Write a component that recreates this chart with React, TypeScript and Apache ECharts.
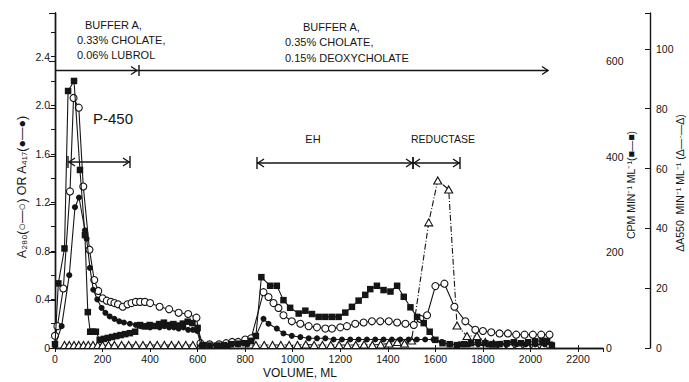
import React, { useEffect, useRef } from "react";
import * as echarts from "echarts";

// Column fractions: [volume (mL), reading]
// A280, open circles, left axis
const a280: [number, number][] = [
  [0, 0.1], [10, 0.18], [35, 0.49], [63, 1.29], [78, 2.06], [100, 1.98], [119, 1.33], [145, 0.81],
  [165, 0.56], [182, 0.47], [200, 0.41], [218, 0.39], [235, 0.38], [250, 0.37], [265, 0.36], [285, 0.34],
  [305, 0.36], [322, 0.37], [340, 0.38], [358, 0.38], [378, 0.38], [400, 0.37], [440, 0.34], [480, 0.32],
  [520, 0.29], [560, 0.28], [595, 0.25], [612, 0.04], [650, 0.03], [690, 0.03], [720, 0.04], [745, 0.05],
  [770, 0.05], [800, 0.07], [825, 0.08], [877, 0.46], [898, 0.42], [919, 0.37], [940, 0.33], [961, 0.27],
  [996, 0.22], [1032, 0.2], [1067, 0.18], [1102, 0.17], [1137, 0.16], [1165, 0.16], [1200, 0.17],
  [1228, 0.18], [1263, 0.2], [1298, 0.21], [1333, 0.22], [1368, 0.22], [1404, 0.22], [1439, 0.21],
  [1474, 0.2], [1509, 0.19], [1537, 0.24], [1565, 0.27], [1600, 0.51], [1638, 0.53], [1680, 0.34],
  [1726, 0.22], [1768, 0.15], [1800, 0.14], [1835, 0.13], [1870, 0.12], [1905, 0.12], [1940, 0.11],
  [1975, 0.11], [2010, 0.11], [2045, 0.11], [2080, 0.11],
];

// A417, filled circles, left axis
const a417: [number, number][] = [
  [0, 0.02], [28, 0.18], [60, 0.6], [84, 1.16], [101, 1.24], [126, 0.97], [133, 0.9], [147, 0.66],
  [161, 0.48], [178, 0.4], [196, 0.33], [212, 0.29], [230, 0.26], [250, 0.24], [270, 0.22], [290, 0.21],
  [315, 0.2], [340, 0.19], [360, 0.18], [380, 0.18], [400, 0.17], [420, 0.18], [440, 0.17], [460, 0.18],
  [480, 0.17], [500, 0.17], [520, 0.16], [540, 0.17], [560, 0.15], [580, 0.15], [598, 0.14], [615, 0.02],
  [650, 0.02], [690, 0.02], [730, 0.02], [770, 0.03], [810, 0.03], [845, 0.1], [877, 0.24], [898, 0.2],
  [933, 0.16], [961, 0.12], [996, 0.1], [1032, 0.09], [1067, 0.08], [1102, 0.08], [1137, 0.08],
  [1172, 0.07], [1207, 0.07], [1242, 0.07], [1277, 0.07], [1312, 0.07], [1347, 0.07], [1382, 0.07],
  [1417, 0.07], [1452, 0.07], [1487, 0.07], [1522, 0.07], [1557, 0.07], [1592, 0.07], [1627, 0.05],
  [1660, 0.03], [1700, 0.03], [1740, 0.03], [1780, 0.03], [1820, 0.03], [1860, 0.03], [1900, 0.03],
  [1940, 0.03], [1980, 0.03], [2020, 0.03], [2060, 0.03], [2090, 0.03],
];

// Radioactivity, filled squares, CPM axis
const cpm: [number, number][] = [
  [0, 8], [14, 135], [40, 208], [55, 537], [80, 558], [105, 372], [126, 236], [138, 75], [148, 34],
  [160, 34], [172, 34], [188, 17], [205, 19], [222, 21], [240, 23], [258, 25], [276, 27], [295, 29],
  [315, 31], [337, 34], [358, 48], [378, 45], [398, 48], [418, 46], [438, 50], [458, 53], [478, 48],
  [498, 50], [518, 47], [538, 51], [558, 55], [578, 52], [600, 42], [622, 6], [650, 5], [680, 5],
  [710, 6], [740, 8], [770, 9], [800, 10], [825, 15], [845, 25], [868, 148], [905, 130], [933, 130],
  [961, 100], [989, 84], [1025, 72], [1053, 78], [1081, 71], [1109, 65], [1137, 65], [1165, 65],
  [1193, 65], [1221, 74], [1249, 86], [1277, 99], [1305, 111], [1326, 123], [1354, 130], [1382, 121],
  [1411, 118], [1439, 130], [1467, 107], [1495, 85], [1523, 65], [1551, 52], [1576, 34], [1600, 17],
  [1630, 10], [1660, 8], [1690, 6], [1720, 8], [1750, 10], [1780, 12], [1810, 10], [1840, 8],
  [1870, 8], [1900, 10], [1930, 12], [1960, 10], [1990, 12], [2020, 14], [2050, 15], [2070, 14],
  [2090, 5],
];

// Reductase activity, open triangles, ΔA550 axis
const dA550: [number, number][] = [
  [40, 1], [60, 1], [80, 1], [100, 1], [120, 1], [140, 1], [160, 1], [180, 1], [200, 1], [225, 1],
  [250, 1], [280, 1], [310, 1], [340, 1], [370, 1], [400, 1], [430, 1], [460, 1], [490, 1], [520, 1],
  [550, 1], [580, 1], [845, 1], [880, 1], [915, 1], [950, 1], [985, 1], [1020, 1], [1055, 1.2],
  [1090, 1], [1125, 1], [1160, 1], [1195, 1], [1230, 1], [1265, 1], [1300, 1.2], [1335, 1], [1370, 1.2],
  [1405, 1.5], [1440, 2], [1470, 1.5], [1500, 2.5], [1572, 42], [1610, 56], [1656, 53], [1691, 7.5],
  [1733, 4], [1775, 4], [1810, 2], [1845, 1.5], [1880, 1], [1915, 1], [1950, 1], [1985, 1], [2020, 1],
  [2055, 1],
];

// Labelled ticks
const volumeTicks = [0, 200, 400, 600, 800, 1000, 1200, 1400, 1600, 1800, 2000, 2200];
const absorbanceTicks = [0, 0.4, 0.8, 1.2, 1.6, 2.0, 2.4];
const cpmTicks = [0, 200, 400, 600];
const activityTicks = [0, 20, 40, 60, 80, 100];

const INK = "#151515";
const FONT = "'Liberation Sans', Arial, Helvetica, sans-serif";

const onList = (list: number[], fmt: (v: number) => string) => (v: number) =>
  list.some((t) => Math.abs(t - v) < 1e-6) ? fmt(v) : "";

const lineEl = (x1: number, y1: number, x2: number, y2: number, w = 1.4) => ({
  type: "line",
  shape: { x1, y1, x2, y2 },
  style: { stroke: INK, lineWidth: w },
  silent: true,
});

const headEl = (x: number, y: number, dir: 1 | -1) => ({
  type: "polyline",
  shape: { points: [[x - dir * 6, y - 4], [x, y], [x - dir * 6, y + 4]] },
  style: { stroke: INK, lineWidth: 1.4, fill: "none" },
  silent: true,
});

// fraction-pool bracket: |<------>|
const bracket = (x1: number, x2: number, y: number) => [
  lineEl(x1, y, x2, y),
  lineEl(x1, y - 6, x1, y + 6),
  lineEl(x2, y - 6, x2, y + 6),
  headEl(x1 + 1, y, -1),
  headEl(x2 - 1, y, 1),
];

const textEl = (
  text: string,
  x: number,
  y: number,
  size: number,
  align: string = "left",
  rotation = 0
) => ({
  type: "text",
  x,
  y,
  rotation,
  silent: true,
  style: {
    text,
    font: `${size}px ${FONT}`,
    fill: INK,
    align,
    verticalAlign: "middle",
    textAlign: align,
    textVerticalAlign: "middle",
  },
});

export default function App() {
  const ref = useRef<HTMLDivElement>(null);

  useEffect(() => {
    if (!ref.current) return;
    const chart = echarts.init(ref.current, null, { renderer: "svg" });

    const axisLine = { show: true, lineStyle: { color: INK, width: 1.4 } };
    const labelBase = { color: INK, fontSize: 10.5, fontFamily: FONT };

    chart.setOption({
      animation: false,
      backgroundColor: "#ffffff",
      grid: { left: 55, right: 86, top: 13, bottom: 34, containLabel: false, outerBoundsMode: "none" },
      xAxis: [
        {
          type: "value",
          position: "bottom",
          min: 0,
          max: 2305,
          interval: 200,
          axisLine,
          axisTick: { show: true, inside: true, length: 3, lineStyle: { color: INK } },
          axisLabel: {
            ...labelBase,
            margin: 5,
            showMaxLabel: false,
            formatter: onList(volumeTicks, (v) => String(Math.round(v))),
          },
          splitLine: { show: false },
        },
        {
          type: "value",
          position: "top",
          min: 0,
          max: 2305,
          interval: 200,
          axisLine,
          axisTick: { show: true, inside: true, length: 4, lineStyle: { color: INK } },
          axisLabel: { show: false },
          splitLine: { show: false },
        },
      ],
      yAxis: [
        {
          type: "value",
          position: "left",
          min: 0,
          max: 2.76,
          interval: 0.2,
          axisLine,
          axisTick: { show: true, inside: false, length: 4, lineStyle: { color: INK } },
          axisLabel: {
            ...labelBase,
            margin: 5,
            formatter: onList(absorbanceTicks, (v) => (Math.abs(v) < 1e-6 ? "0" : v.toFixed(1))),
          },
          splitLine: { show: false },
        },
        {
          type: "value",
          position: "right",
          min: 0,
          max: 700,
          interval: 100,
          axisLine,
          axisTick: { show: true, inside: true, length: 6, lineStyle: { color: INK } },
          axisLabel: {
            ...labelBase,
            margin: 3,
            formatter: onList(cpmTicks, (v) => String(Math.round(v))),
          },
          splitLine: { show: false },
        },
        {
          type: "value",
          position: "right",
          offset: 47,
          min: 0,
          max: 112,
          interval: 20,
          axisLine,
          axisTick: { show: true, inside: true, length: 5, lineStyle: { color: INK } },
          axisLabel: {
            ...labelBase,
            margin: 6,
            formatter: onList(activityTicks, (v) => String(Math.round(v))),
          },
          splitLine: { show: false },
        },
      ],
      series: [
        {
          name: "ΔA550",
          type: "line",
          data: dA550,
          yAxisIndex: 2,
          symbol: "triangle",
          symbolSize: [8, 7],
          showAllSymbol: true,
          itemStyle: { color: "#ffffff", borderColor: INK, borderWidth: 1.1 },
          lineStyle: { color: INK, width: 1.1, type: [6, 2, 1, 2] },
          z: 2,
        },
        {
          name: "A280",
          type: "line",
          data: a280,
          yAxisIndex: 0,
          symbol: "circle",
          symbolSize: 7,
          showAllSymbol: true,
          itemStyle: { color: "#ffffff", borderColor: INK, borderWidth: 1.1 },
          lineStyle: { color: INK, width: 1.1 },
          z: 3,
        },
        {
          name: "A417",
          type: "line",
          data: a417,
          yAxisIndex: 0,
          symbol: "circle",
          symbolSize: 6,
          showAllSymbol: true,
          itemStyle: { color: INK },
          lineStyle: { color: INK, width: 1.1 },
          z: 4,
        },
        {
          name: "CPM",
          type: "line",
          data: cpm,
          yAxisIndex: 1,
          symbol: "rect",
          symbolSize: 6.5,
          showAllSymbol: true,
          itemStyle: { color: INK },
          lineStyle: { color: INK, width: 1.1 },
          z: 5,
        },
      ],
      graphic: [
        // buffer change arrow
        lineEl(55, 70.5, 548, 70.5),
        headEl(137, 70.5, 1),
        lineEl(139, 65, 139, 76),
        headEl(548, 70.5, 1),
        ...bracket(68, 130, 162),
        ...bracket(257, 413, 163),
        ...bracket(413, 460, 163),
        textEl("BUFFER A,", 85, 25, 11),
        textEl("0.33% CHOLATE,", 77, 40, 11),
        textEl("0.06% LUBROL", 77, 55, 11),
        textEl("BUFFER A,", 303, 27, 11),
        textEl("0.35% CHOLATE,", 285, 42, 11),
        textEl("0.15% DEOXYCHOLATE", 285, 58, 11),
        textEl("P-450", 93, 118, 15),
        textEl("EH", 313, 139, 11, "center"),
        textEl("REDUCTASE", 443, 139, 10.5, "center"),
        textEl("VOLUME, ML", 300, 373, 12, "center"),
        textEl("A₂₈₀(○—○) OR A₄₁₇(●—●)", 22, 187, 12.5, "center", Math.PI / 2),
        textEl("CPM MIN⁻¹ ML⁻¹(■—■)", 631, 185, 10.5, "center", Math.PI / 2),
        textEl("ΔA550  MIN⁻¹ ML⁻¹ (Δ—·—Δ)", 680, 183, 10.5, "center", Math.PI / 2),
      ],
    });

    return () => chart.dispose();
  }, []);

  return (
    <div
      ref={ref}
      style={{ position: "fixed", left: 0, top: 0, width: 689, height: 382, background: "#fff" }}
    />
  );
}
